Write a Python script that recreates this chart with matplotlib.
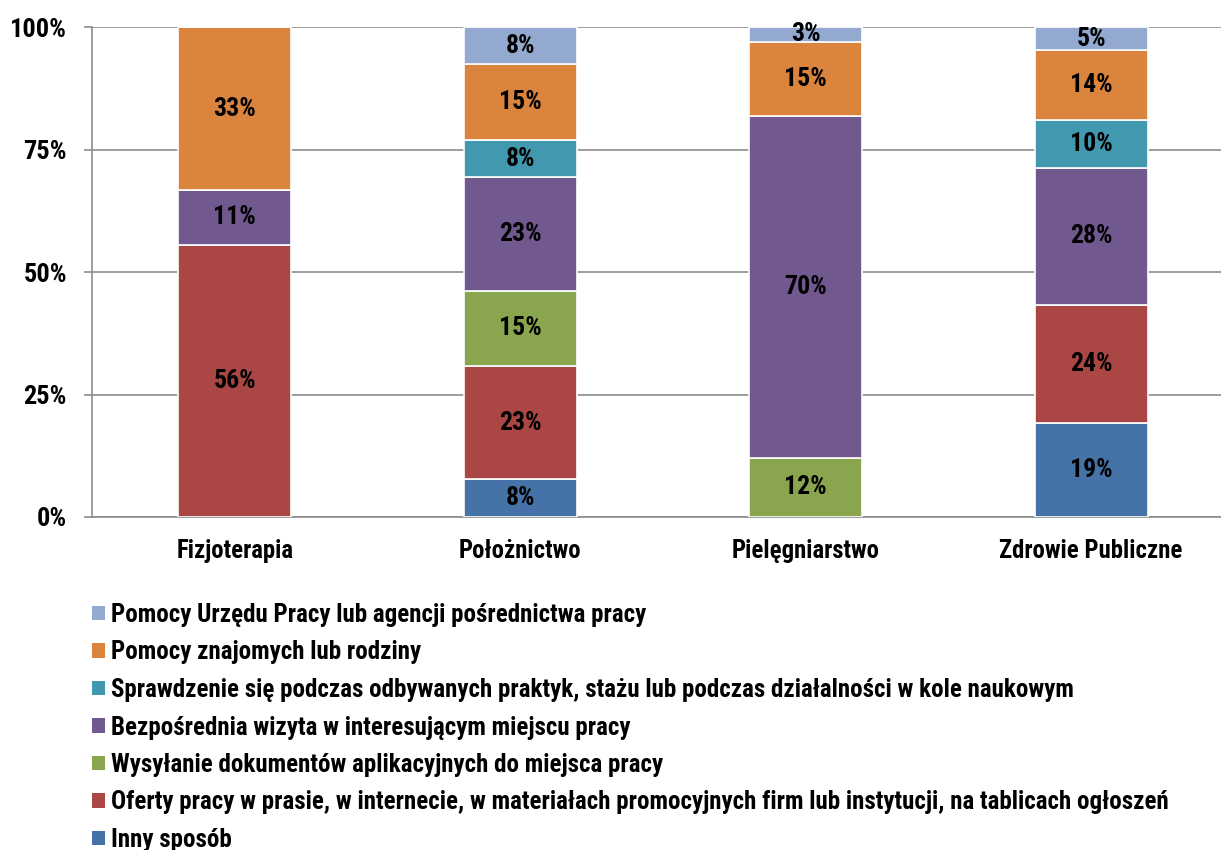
import matplotlib
matplotlib.use("Agg")
import matplotlib.pyplot as plt
from matplotlib.patches import Patch
import numpy as np

categories = ["Fizjoterapia", "Położnictwo", "Pielęgniarstwo", "Zdrowie Publiczne"]
series_names = [
    "Inny sposób",
    "Oferty pracy w prasie, w internecie, w materiałach promocyjnych firm lub instytucji, na tablicach ogłoszeń",
    "Wysyłanie dokumentów aplikacyjnych do miejsca pracy",
    "Bezpośrednia wizyta w interesującym miejscu pracy",
    "Sprawdzenie się podczas odbywanych praktyk, stażu lub podczas działalności w kole naukowym",
    "Pomocy znajomych lub rodziny",
    "Pomocy Urzędu Pracy lub agencji pośrednictwa pracy",
]
inny = [0.0, 7.7, 0.0, 19.2]
oferty = [55.6, 23.1, 0.0, 24.1]
wysylanie = [0.0, 15.4, 12.1, 0.0]
wizyta = [11.1, 23.1, 69.7, 27.9]
sprawdzenie = [0.0, 7.7, 0.0, 9.8]
znajomi = [33.3, 15.4, 15.2, 14.3]
urzad = [0.0, 7.6, 3.0, 4.7]
series_values = [inny, oferty, wysylanie, wizyta, sprawdzenie, znajomi, urzad]
colors = ["#4572A7", "#AA4643", "#89A54E", "#71588F", "#4198AF", "#DB843D", "#93A9CF"]
yticks = [0, 25, 50, 75, 100]
ytick_labels = ["0%", "25%", "50%", "75%", "100%"]

plt.rcParams['font.family'] = ['Roboto Condensed', 'Archivo Narrow', 'PT Sans Narrow',
                               'Fira Sans Condensed', 'DejaVu Sans']
FS = dict(fontweight='bold')

fig = plt.figure(figsize=(12.21, 8.5), dpi=100)
ax = fig.add_axes([92/1221, 1-517/850, 1-92/1221, 490/850])

x = np.arange(len(categories))
bottom = np.zeros(len(categories))
for vals, col in zip(series_values, colors):
    v = np.array(vals)
    ax.bar(x, v, 0.396, bottom=bottom, color=col, edgecolor='white', linewidth=1.2, zorder=3)
    for xi, vi, bi in zip(x, v, bottom):
        if vi > 0:
            ax.text(xi, bi + vi/2, f"{round(vi):d}%", ha='center', va='center',
                    fontsize=18.5, color='black', zorder=4, **FS)
    bottom += v

ax.set_xlim(-0.5, 3.455)
ax.set_ylim(0, 100)
ax.set_yticks(yticks)
ax.set_yticklabels(ytick_labels, fontsize=19, **FS)
ax.set_xticks(x)
ax.set_xticklabels(categories, fontsize=17.8, **FS)
ax.yaxis.grid(True, color='#8c8c8c', linewidth=1.2, zorder=0)
ax.set_axisbelow(True)
for s in ['top', 'right']:
    ax.spines[s].set_visible(False)
ax.spines['left'].set_color('#8c8c8c')
ax.spines['bottom'].set_color('#8c8c8c')
ax.spines['left'].set_linewidth(1.2)
ax.spines['bottom'].set_linewidth(1.2)
ax.tick_params(axis='y', length=6, color='#8c8c8c', width=1.2, pad=12)
ax.tick_params(axis='x', length=0, pad=16)

handles = [Patch(facecolor=c, edgecolor='none') for c in colors][::-1]
labels = series_names[::-1]
leg = fig.legend(handles, labels, loc='upper left', bbox_to_anchor=(92/1221, 1-603/850),
                 frameon=False, ncol=1, handlelength=0.52, handleheight=0.52,
                 handletextpad=0.25, labelspacing=0.54, borderaxespad=0, borderpad=0,
                 prop=dict(size=18, weight='bold'))

fig.savefig("out.png", dpi=100)
